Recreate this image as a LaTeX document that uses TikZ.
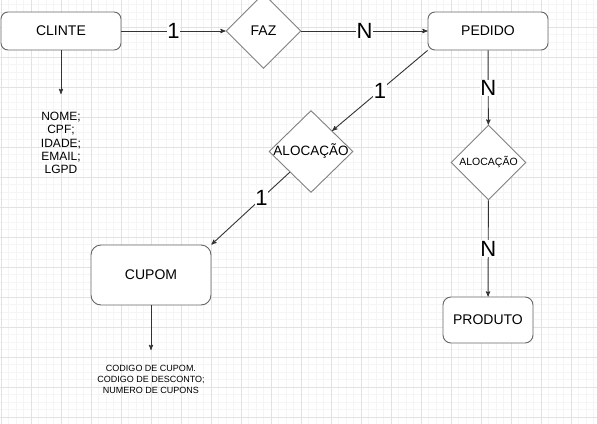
\documentclass[tikz,border=0pt]{standalone}
\usepackage{fontspec}
\setmainfont{Liberation Sans}
\usepackage{tikz}
\usetikzlibrary{arrows}
\usetikzlibrary{shapes.geometric}

\definecolor{gridmajor}{HTML}{E2E2E2}
\definecolor{gridminor}{HTML}{F5F5F5}
\definecolor{linegray}{HTML}{333333}
\definecolor{boxgray}{HTML}{666666}
\definecolor{relgray}{HTML}{808080}

\begin{document}
\begin{tikzpicture}[x=1pt,y=-1pt,
	entity node/.style={rectangle,rounded corners=7pt,draw=boxgray,line width=0.9pt,fill=white,minimum width=120pt,minimum height=38pt,font=\fontsize{14}{16}\selectfont},
	rel node/.style={diamond,draw=relgray,line width=0.9pt,fill=white,inner sep=0pt,minimum width=75pt,minimum height=75pt},
	attr node/.style={align=center,inner sep=0pt},
	link/.style={draw=linegray,line width=0.9pt,->,>=stealth'},
	card/.style={fill=white,inner sep=0.5pt,font=\fontsize{22}{24}\selectfont}]

				\useasboundingbox (0,0) rectangle (597,423);
				\clip (0,0) rectangle (597,423);
				\fill[white] (0,0) rectangle (597,423);

				% grid of the canvas
				\begin{scope}[shift={(1,27)}]
				\draw[gridminor,line width=0.8pt,step=7.5pt] (-30pt,-450pt) grid (630pt,30pt);
				\draw[gridmajor,line width=0.8pt,step=30pt] (-30pt,-450pt) grid (630pt,30pt);
				\end{scope}

				\node[entity node] (clinte) at (61,31) {CLINTE};
				\node[rel node,label={[font=\fontsize{14}{16}\selectfont]center:FAZ}] (faz) at (263.5,31) {};
				\node[entity node] (pedido) at (488,31) {PEDIDO};
				\node[rel node,minimum width=84pt,minimum height=82pt,label={[font=\fontsize{13.5}{15}\selectfont]center:ALOCAÇÃO}] (alocA) at (311,151.5) {};
				\node[rel node,label={[font=\fontsize{10.5}{12}\selectfont]center:ALOCAÇÃO}] (alocB) at (488.5,162.5) {};
				\node[entity node,rounded corners=10pt,minimum height=60pt] (cupom) at (151,275) {CUPOM};
				\node[entity node,rounded corners=8pt,minimum width=90pt,minimum height=46pt] (produto) at (488,320) {PRODUTO};

				\node[attr node,font=\fontsize{12}{13.4}\selectfont] (cliattr) at (61,143) {NOME;\\CPF;\\IDADE;\\EMAIL;\\LGPD};
				\node[attr node,font=\fontsize{9}{10.8}\selectfont] (cupattr) at (151,379.5) {CODIGO DE CUPOM.\\CODIGO DE DESCONTO;\\NUMERO DE CUPONS};
				\coordinate (cliend) at (61,94);
				\coordinate (cupend) at (151,350);

				\path[every edge/.style={link}]
				(clinte) edge node[card] {1} (faz)
				(faz) edge node[card] {N} (pedido)
				(pedido) edge node[card] {N} (alocB)
				(alocB) edge node[card] {N} (produto)
				(pedido.south west) edge node[card] {1} (alocA.north east)
				(alocA.south west) edge node[card,pos=0.36] {1} (cupom.north east)
				(clinte) edge (cliend)
				(cupom) edge (cupend);

\end{tikzpicture}
\end{document}
